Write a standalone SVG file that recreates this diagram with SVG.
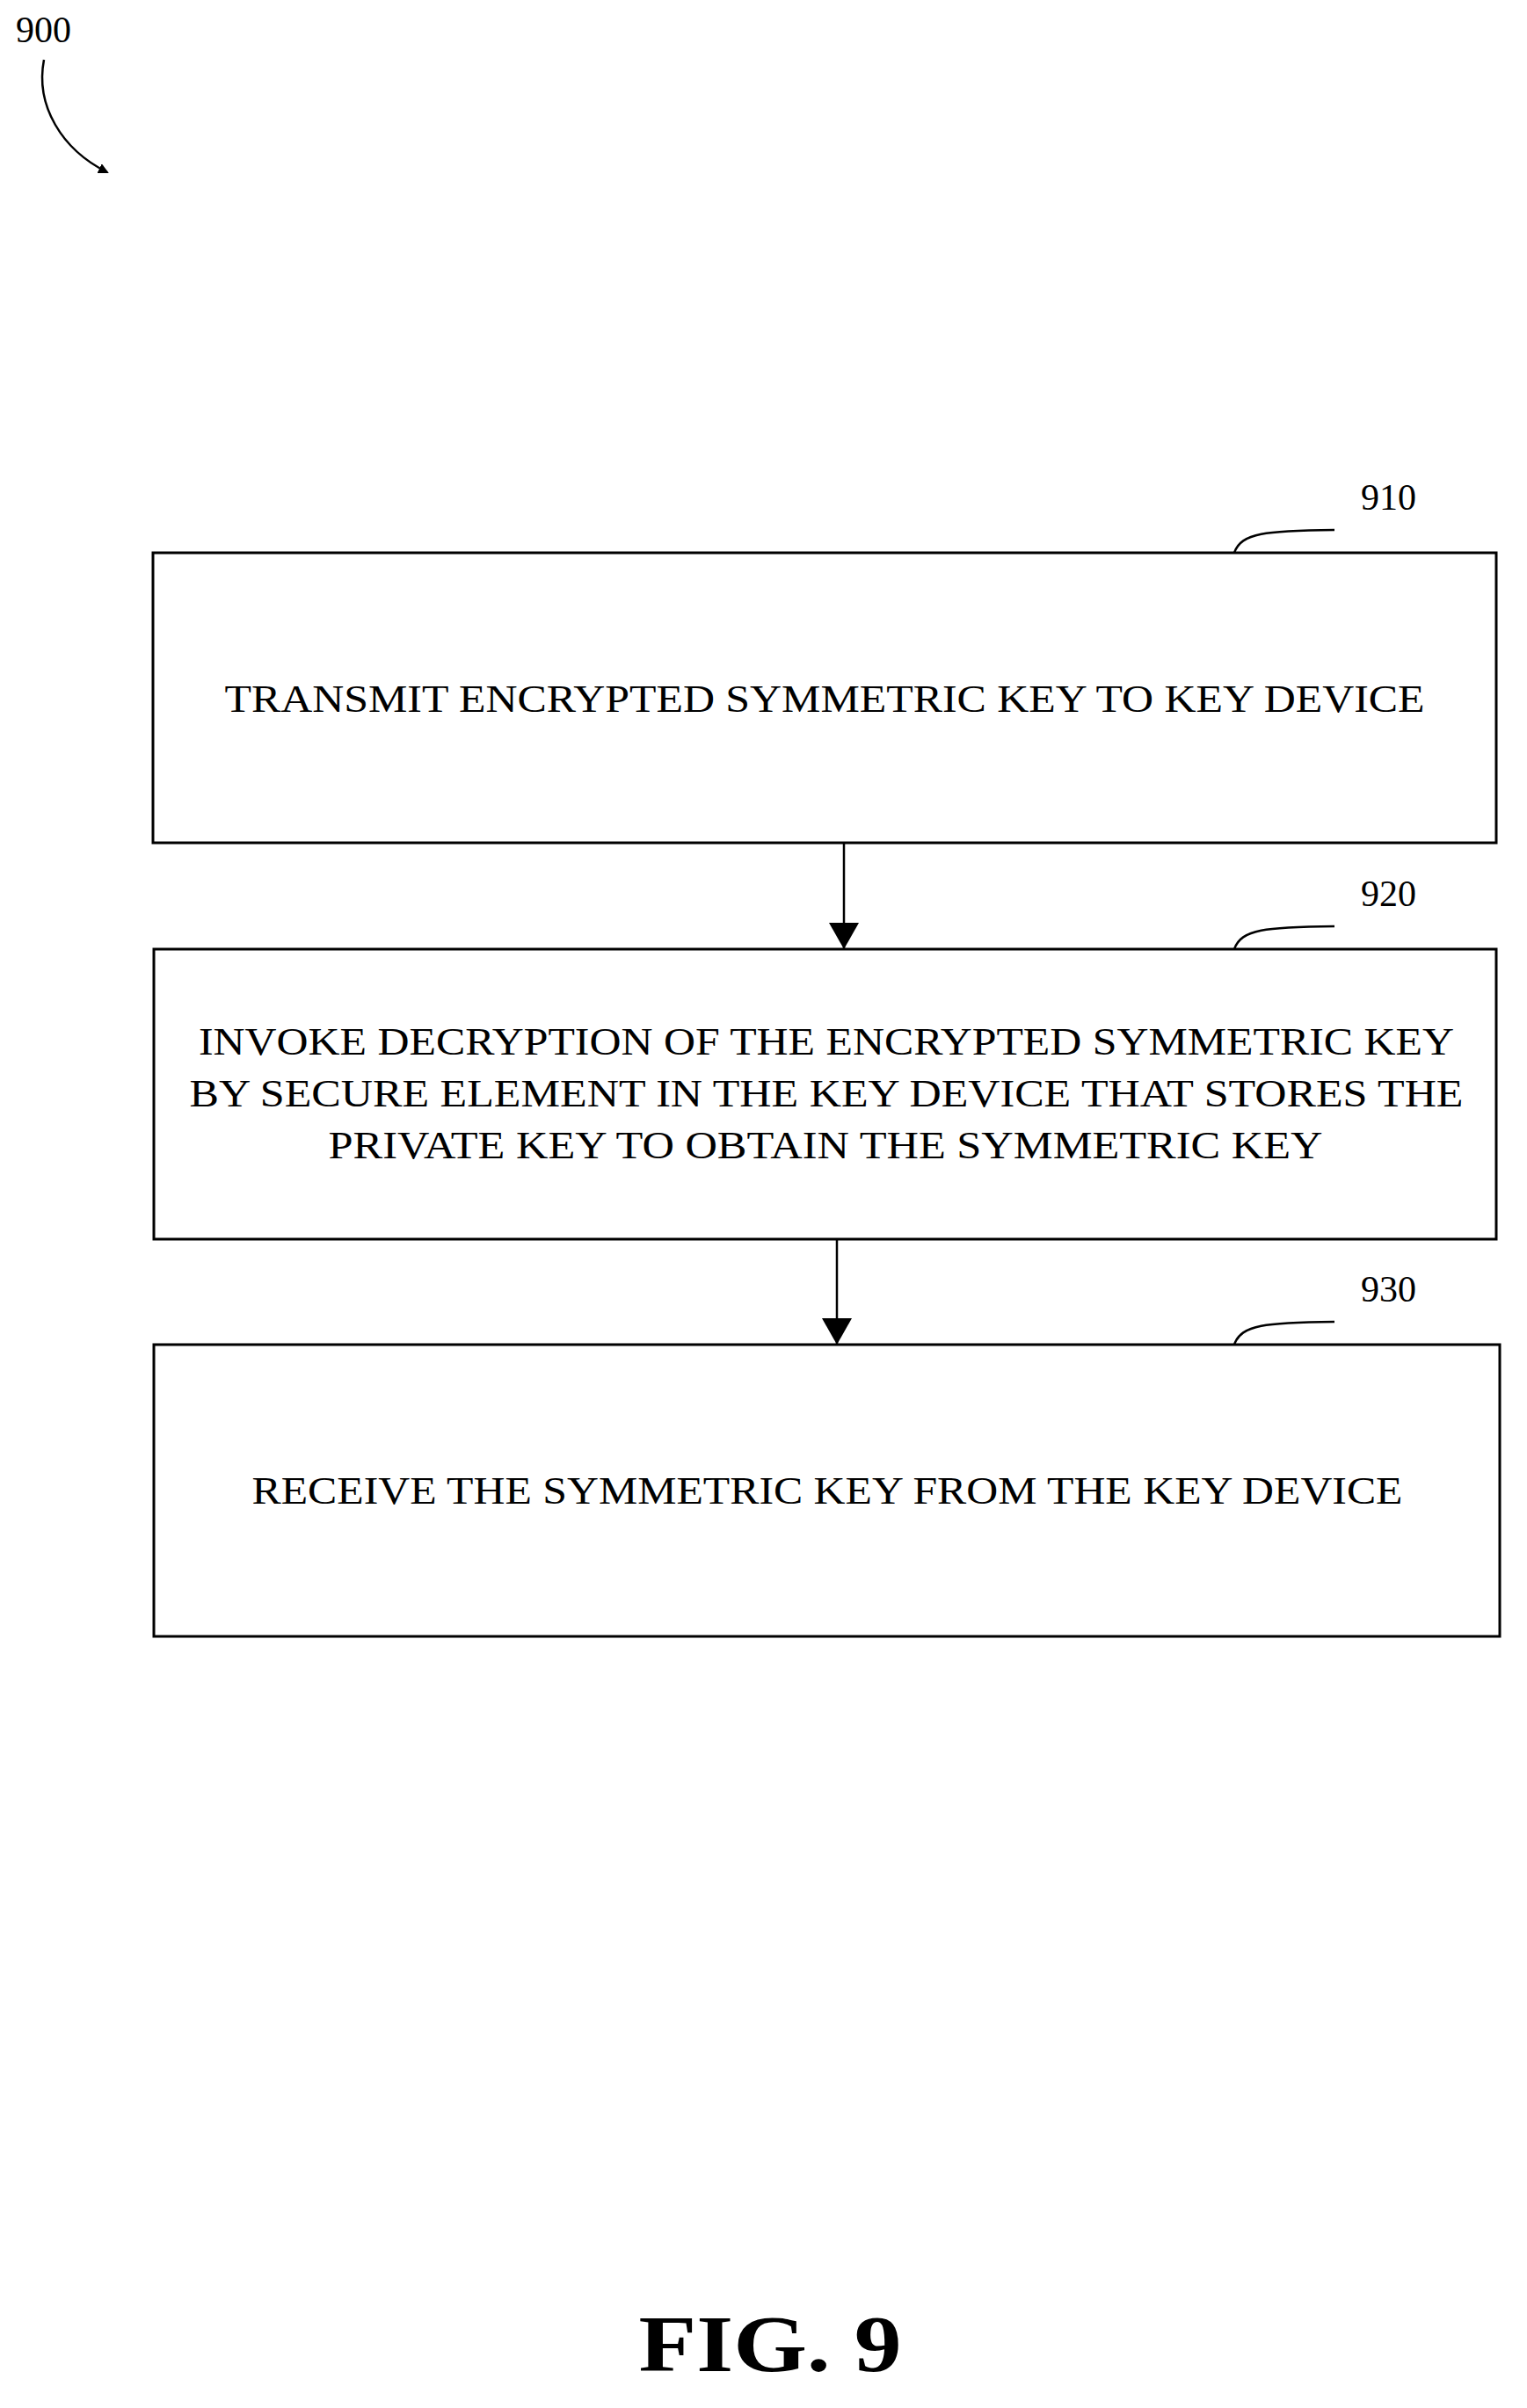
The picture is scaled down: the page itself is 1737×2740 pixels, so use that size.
<svg xmlns="http://www.w3.org/2000/svg" width="1737" height="2740" viewBox="0 0 1737 2740">
<style>
.box{fill:#fff;stroke:#000;stroke-width:3}
.t{font-family:"Liberation Serif",serif;font-size:44px;text-anchor:middle}
.lbl{font-family:"Liberation Serif",serif;font-size:42px}
.ln{fill:none;stroke:#000;stroke-width:2.5}
</style>
<defs><marker id="ah" markerWidth="12" markerHeight="12" refX="10" refY="6" orient="auto" markerUnits="userSpaceOnUse" viewBox="0 0 12 12"><path d="M0,0 L12,6 L0,12 Z"/></marker>
<marker id="ab" markerWidth="30" markerHeight="34" refX="30" refY="17" orient="auto" markerUnits="userSpaceOnUse"><path d="M0,0 L30,17 L0,34 Z"/></marker></defs>
<rect width="1737" height="2740" fill="#fff"/>
<g id="ref900"><text class="lbl" x="18" y="48">900</text><path class="ln" d="M50,68 C40,120 70,170 122,196" marker-end="url(#ah)"/></g>
<g id="n910"><rect class="box" x="174" y="629" width="1528" height="330"/><text class="t" x="938" y="810" textLength="1365" lengthAdjust="spacingAndGlyphs">TRANSMIT ENCRYPTED SYMMETRIC KEY TO KEY DEVICE</text><path class="ln" d="M1404,629 C1412,606 1440,604 1518,603"/><text class="lbl" x="1548" y="580">910</text></g>
<g id="n920"><rect class="box" x="175" y="1080" width="1527" height="330"/><text class="t" x="940" y="1200" textLength="1428" lengthAdjust="spacingAndGlyphs">INVOKE DECRYPTION OF THE ENCRYPTED SYMMETRIC KEY</text><text class="t" x="940" y="1259" textLength="1449" lengthAdjust="spacingAndGlyphs">BY SECURE ELEMENT IN THE KEY DEVICE THAT STORES THE</text><text class="t" x="939" y="1318" textLength="1131" lengthAdjust="spacingAndGlyphs">PRIVATE KEY TO OBTAIN THE SYMMETRIC KEY</text><path class="ln" d="M1404,1080 C1412,1057 1440,1055 1518,1054"/><text class="lbl" x="1548" y="1031">920</text></g>
<g id="n930"><rect class="box" x="175" y="1530" width="1531" height="332"/><text class="t" x="941" y="1711" textLength="1309" lengthAdjust="spacingAndGlyphs">RECEIVE THE SYMMETRIC KEY FROM THE KEY DEVICE</text><path class="ln" d="M1404,1530 C1412,1507 1440,1505 1518,1504"/><text class="lbl" x="1548" y="1481">930</text></g>
<g id="connectors"><line class="ln" x1="960" y1="959" x2="960" y2="1080" marker-end="url(#ab)"/><line class="ln" x1="952" y1="1410" x2="952" y2="1530" marker-end="url(#ab)"/></g>
<text x="876" y="2698" font-family="Liberation Serif,serif" font-weight="bold" font-size="92" text-anchor="middle" textLength="299" lengthAdjust="spacingAndGlyphs">FIG.  9</text>
</svg>
